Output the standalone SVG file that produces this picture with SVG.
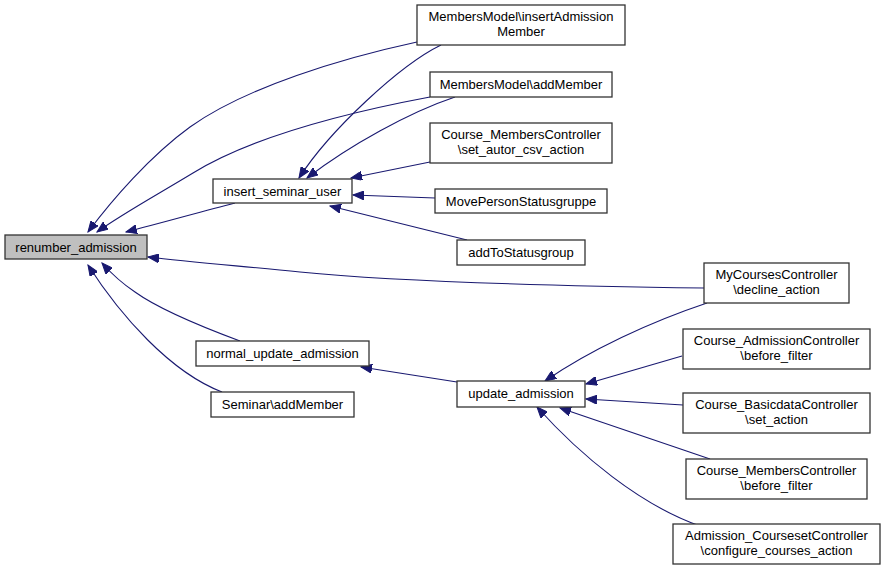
<svg xmlns="http://www.w3.org/2000/svg" width="885" height="571" viewBox="0 0 885 571">
<defs>
<marker id="arr" markerUnits="userSpaceOnUse" markerWidth="12" markerHeight="9" refX="11" refY="4.5" orient="auto">
<path d="M0,0 L11,4.5 L0,9 z" fill="#191970" stroke="#191970" stroke-width="1"/>
</marker>
<style>
.n rect{fill:#ffffff;stroke:#333333;stroke-width:1.3}
.n.cur rect{fill:#bfbfbf}
.n text{font-family:"Liberation Sans",Arial,sans-serif;font-size:13px;fill:#000;text-anchor:middle}
.e path{fill:none;stroke:#191970;stroke-width:1.1;marker-end:url(#arr)}
</style>
</defs>
<rect width="885" height="571" fill="#ffffff"/>
<g id="edges" class="e">
<path d="M235,203 C200,212 165,222 126,232"/>
<path d="M417,42 C343,58 246,87 190,127 C150,156 112,200 88,232"/>
<path d="M430,97 C350,112 255,135 193,173 C155,196 122,214 97,232"/>
<path d="M704,288 C560,286 400,282 300,272 C240,266 190,262 148,257"/>
<path d="M240,341 C205,328 160,310 135,292 C120,282 110,272 102,263"/>
<path d="M222,392 C170,372 120,315 88,265"/>
<path d="M441,45 C400,65 330,130 299,178"/>
<path d="M455,97 C410,112 350,145 307,178"/>
<path d="M430,162 L351,178"/>
<path d="M435,198 L353,195"/>
<path d="M467,240 L330,206"/>
<path d="M457,382 L361,367"/>
<path d="M707,303 C650,322 590,350 545,381"/>
<path d="M682,356 L586,384"/>
<path d="M683,405 L586,399"/>
<path d="M710,459 L560,408"/>
<path d="M700,526 C640,505 580,455 537,407"/>
</g>
<g id="renumber_admission" class="n cur"><rect x="5" y="235" width="142" height="24"/><text x="76" y="252">renumber_admission</text></g>
<g id="insert_seminar_user" class="n"><rect x="213" y="179" width="139" height="24"/><text x="282.5" y="196">insert_seminar_user</text></g>
<g id="mm_insertAdmissionMember" class="n"><rect x="417" y="5" width="208" height="40"/><text x="521" y="21">MembersModel\insertAdmission</text><text x="521" y="36">Member</text></g>
<g id="mm_addMember" class="n"><rect x="430" y="72" width="182" height="25"/><text x="521" y="89">MembersModel\addMember</text></g>
<g id="cmc_set_autor_csv_action" class="n"><rect x="430" y="123" width="182" height="40"/><text x="521" y="139">Course_MembersController</text><text x="521" y="154">\set_autor_csv_action</text></g>
<g id="MovePersonStatusgruppe" class="n"><rect x="435" y="189" width="172" height="24"/><text x="521" y="206">MovePersonStatusgruppe</text></g>
<g id="addToStatusgroup" class="n"><rect x="457" y="240" width="128" height="25"/><text x="521" y="257">addToStatusgroup</text></g>
<g id="mycourses_decline_action" class="n"><rect x="704" y="263" width="145" height="40"/><text x="776.5" y="279">MyCoursesController</text><text x="776.5" y="294">\decline_action</text></g>
<g id="normal_update_admission" class="n"><rect x="196" y="341" width="173" height="25"/><text x="282.5" y="358">normal_update_admission</text></g>
<g id="seminar_addMember" class="n"><rect x="211" y="392" width="143" height="25"/><text x="282.5" y="409">Seminar\addMember</text></g>
<g id="update_admission" class="n"><rect x="457" y="381" width="128" height="26"/><text x="521" y="398">update_admission</text></g>
<g id="cac_before_filter" class="n"><rect x="683" y="329" width="187" height="40"/><text x="776.5" y="345">Course_AdmissionController</text><text x="776.5" y="360">\before_filter</text></g>
<g id="cbc_set_action" class="n"><rect x="683" y="393" width="187" height="40"/><text x="776.5" y="409">Course_BasicdataController</text><text x="776.5" y="424">\set_action</text></g>
<g id="cmc_before_filter" class="n"><rect x="686" y="459" width="181" height="40"/><text x="776.5" y="475">Course_MembersController</text><text x="776.5" y="490">\before_filter</text></g>
<g id="acc_configure_courses_action" class="n"><rect x="673" y="524" width="207" height="40"/><text x="776.5" y="540">Admission_CoursesetController</text><text x="776.5" y="555">\configure_courses_action</text></g>
</svg>
